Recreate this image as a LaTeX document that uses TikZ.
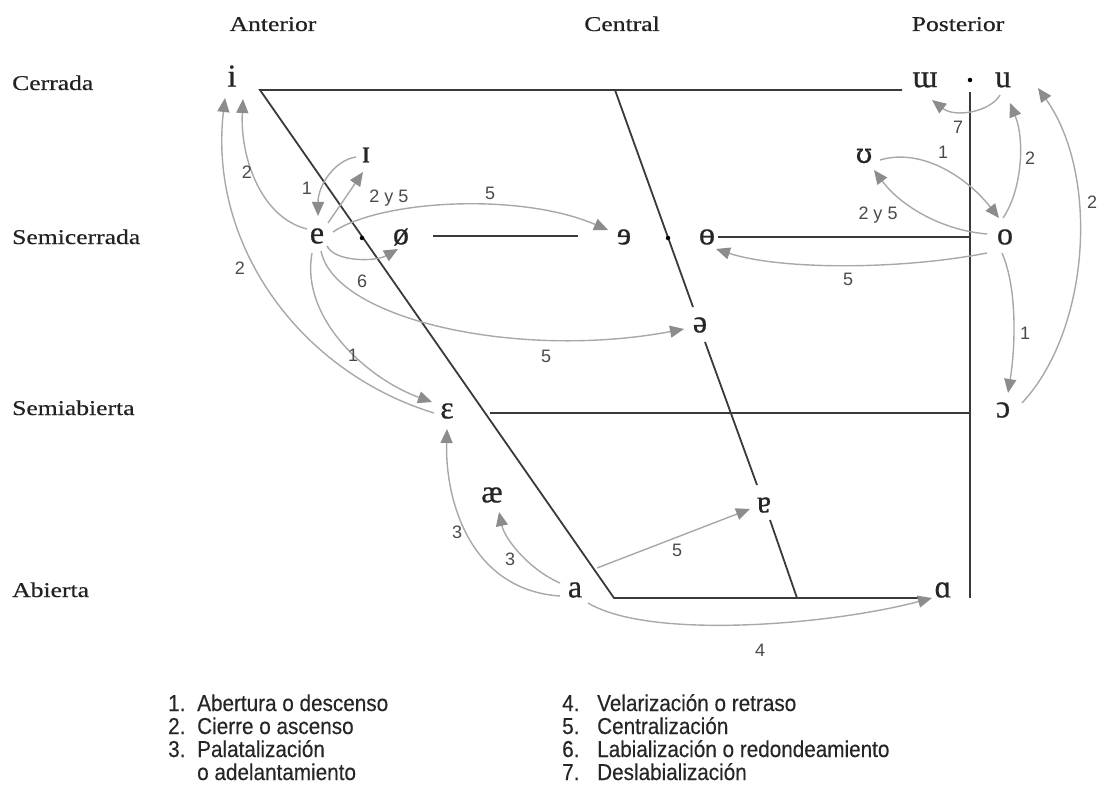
\documentclass[tikz,border=0pt]{standalone}
\usepackage{fontspec}
\usetikzlibrary{arrows.meta}
\newfontfamily\vowelfont[FakeBold=0.6]{Liberation Serif}
\newfontfamily\altvowelfont[FakeBold=0.4]{DejaVu Serif}
\newfontfamily\labfont[FakeStretch=1.22,FakeBold=0.5]{Liberation Serif}
\newfontfamily\numfont{Liberation Sans}
\newfontfamily\legfont[FakeStretch=0.9,FakeBold=0.3]{Liberation Sans}
\definecolor{chartline}{HTML}{3A3A3A}
\definecolor{arrline}{HTML}{A8A8A8}
\definecolor{arrhead}{HTML}{8C8C8C}
\definecolor{numcol}{HTML}{4A4A4A}
\definecolor{labcol}{HTML}{222222}
\begin{document}
\begin{tikzpicture}[x=1pt,y=-1pt,
  vowel/.style={font=\vowelfont\fontsize{32}{32}\selectfont, inner sep=1pt, text=black!85},
  axis/.style={font=\labfont\fontsize{21}{24}\selectfont, text=labcol, inner sep=0pt},
  chart/.style={draw=chartline, line width=1.8pt},
  shiftarrow/.style={draw=arrline, line width=1.4pt, -{Triangle[length=14pt,width=12pt,color=arrhead]}},
  num/.style={font=\numfont\fontsize{18}{18}\selectfont, text=numcol, inner sep=0pt},
  leg/.style={font=\legfont\fontsize{23}{23}\selectfont, text=black!85, inner sep=0pt, anchor=base west},
  cdot/.style={circle, fill=black, inner sep=0pt, minimum size=4.5pt}
]
\fill[white] (0,0) rectangle (1099,802);
\useasboundingbox (0,0) rectangle (1099,802);

% axis labels
\node[axis, anchor=base] (ant) at (273,31) {Anterior};
\node[axis, anchor=base] (cen) at (622,31) {Central};
\node[axis, anchor=base] (pos) at (958,31) {Posterior};
\node[axis, anchor=base west] (cer) at (12,90) {Cerrada};
\node[axis, anchor=base west] (scer) at (12,244) {Semicerrada};
\node[axis, anchor=base west] (sab) at (12,415) {Semiabierta};
\node[axis, anchor=base west] (abi) at (12,597) {Abierta};

% chart coordinates
\coordinate (TL) at (260,90);
\coordinate (TR) at (902,90);
\coordinate (CT) at (615,90);
\coordinate (BL) at (614,598);
\coordinate (BR) at (922,598);
\coordinate (CB) at (797,598);
\coordinate (RT) at (970,92);
\coordinate (RB) at (970,598);
\coordinate (G1) at (693,307);
\coordinate (G2) at (705,342);
\coordinate (G3) at (757,485);
\coordinate (G4) at (770,520);
\coordinate (SL1) at (433,236);
\coordinate (SL2) at (578,236);
\coordinate (SR1) at (718,237);
\coordinate (SR2) at (970,237);
\coordinate (SA1) at (490,413);
\coordinate (SA2) at (970,413);

\draw[chart] (TR) -- (TL) -- (BL) -- (BR);
\draw[chart] (CT) -- (G1);
\draw[chart] (G2) -- (G3);
\draw[chart] (G4) -- (CB);
\draw[chart] (RT) -- (RB);
\draw[chart] (SL1) -- (SL2);
\draw[chart] (SR1) -- (SR2);
\draw[chart] (SA1) -- (SA2);

\node[cdot] (d1) at (362,238) {};
\node[cdot] (d2) at (668,238) {};
\node[cdot] (d3) at (970,80) {};

% vowels
\node[vowel] (i) at (232,76) {i};
\node[vowel] (wu) at (925,80) {ɯ};
\node[vowel] (u) at (1003,80) {u};
\node[vowel] (I) at (366,155) {ɪ};
\node[vowel] (e) at (317,236) {e};
\node[vowel] (oe) at (401,237) {ø};
\node[vowel] (re) at (624,237) {ɘ};
\node[vowel] (bo) at (707,237) {ɵ};
\node[vowel, font=\altvowelfont\fontsize{27}{27}\selectfont] (U) at (864,156) {ʊ};
\node[vowel] (o) at (1005,237) {o};
\node[vowel] (schwa) at (700,325) {ə};
\node[vowel] (eps) at (447,411) {ɛ};
\node[vowel] (ae) at (492,495) {æ};
\node[vowel] (a) at (575,590) {a};
\node[vowel] (ta) at (764,505) {ɐ};
\node[vowel] (al) at (943,590) {ɑ};
\node[vowel] (oo) at (1003,410) {ɔ};

% arrows
\draw[shiftarrow] ([shift={(-10,-7)}]e.center) .. controls +(-45,-11) and +(-3,60) .. ([shift={(11,23)}]i.center);
\draw[shiftarrow] ([shift={(-13,2)}]eps.center) .. controls +(-134,-41) and +(-17,147) .. ([shift={(-7,22)}]i.center);
\draw[shiftarrow] ([shift={(-10,2)}]I.center) .. controls +(-21,3) and +(0,-31) .. ([shift={(1,-20)}]e.center);
\draw[shiftarrow] ([shift={(11,-13)}]e.center) -- ([shift={(-3,17)}]I.center);
\draw[shiftarrow] ([shift={(16,-4)}]e.center) .. controls +(47,-32) and +(-88,-38) .. ([shift={(-16,-7)}]re.center);
\draw[shiftarrow] ([shift={(10,10)}]e.center) .. controls +(8,16) and +(-23,13) .. ([shift={(-3,12)}]oe.center);
\draw[shiftarrow] ([shift={(4,15)}]e.center) .. controls +(14,69) and +(-164,31) .. ([shift={(-16,4)}]schwa.center);
\draw[shiftarrow] ([shift={(-5,17)}]e.center) .. controls +(-12,67) and +(-62,-22) .. ([shift={(-15,-9)}]eps.center);
\draw[shiftarrow] ([shift={(16,4)}]U.center) .. controls +(40,-12) and +(-34,-43) .. ([shift={(-6,-19)}]o.center);
\draw[shiftarrow] ([shift={(-18,-3)}]o.center) .. controls +(-47,-4) and +(26,35) .. ([shift={(10,14)}]U.center);
\draw[shiftarrow] ([shift={(-2,-19)}]o.center) .. controls +(19,-28) and +(15,37) .. ([shift={(7,23)}]u.center);
\draw[shiftarrow] ([shift={(-3,15)}]u.center) .. controls +(-10,17) and +(23,18) .. ([shift={(7,20)}]wu.center);
\draw[shiftarrow] ([shift={(19,-7)}]oo.center) .. controls +(68,-73) and +(62,87) .. ([shift={(35,8)}]u.center);
\draw[shiftarrow] ([shift={(-18,16)}]o.center) .. controls +(-87,17) and +(64,21) .. ([shift={(9,12)}]bo.center);
\draw[shiftarrow] ([shift={(-3,16)}]o.center) .. controls +(16,37) and +(7,-43) .. ([shift={(5,-17)}]oo.center);
\draw[shiftarrow] ([shift={(-15,6)}]a.center) .. controls +(-90,-6) and +(-2,71) .. ([shift={(0,18)}]eps.center);
\draw[shiftarrow] ([shift={(-15,-7)}]a.center) .. controls +(-30,-13) and +(6,28) .. ([shift={(7,17)}]ae.center);
\draw[shiftarrow] ([shift={(22,-22)}]a.center) -- ([shift={(-14,4)}]ta.center);
\draw[shiftarrow] ([shift={(13,13)}]a.center) .. controls +(62,37) and +(-102,27) .. ([shift={(-11,8)}]al.center);

% arrow labels
\node[num] (n1) at (247,172) {2};
\node[num] (n2) at (240,268) {2};
\node[num] (n3) at (307,188) {1};
\node[num] (n4) at (389,198) {2 y 5};
\node[num] (n5) at (490,193) {5};
\node[num] (n6) at (362,281) {6};
\node[num] (n7) at (546,356) {5};
\node[num] (n8) at (353,355) {1};
\node[num] (n9) at (943,152) {1};
\node[num] (n10) at (878,215) {2 y 5};
\node[num] (n11) at (1030,158) {2};
\node[num] (n12) at (958,127) {7};
\node[num] (n13) at (1092,202) {2};
\node[num] (n14) at (848,279) {5};
\node[num] (n15) at (1025,333) {1};
\node[num] (n16) at (457,532) {3};
\node[num] (n17) at (510,559) {3};
\node[num] (n18) at (677,550) {5};
\node[num] (n19) at (760,650) {4};

% legend
\node[leg] (l1n) at (168,711) {1.};
\node[leg] (l1t) at (197,711) {Abertura o descenso};
\node[leg] (l2n) at (168,734) {2.};
\node[leg] (l2t) at (197,734) {Cierre o ascenso};
\node[leg] (l3n) at (168,757) {3.};
\node[leg] (l3t) at (197,757) {Palatalización};
\node[leg] (l3u) at (197,780) {o adelantamiento};
\node[leg] (l4n) at (562,711) {4.};
\node[leg] (l4t) at (597,711) {Velarización o retraso};
\node[leg] (l5n) at (562,734) {5.};
\node[leg] (l5t) at (597,734) {Centralización};
\node[leg] (l6n) at (562,757) {6.};
\node[leg] (l6t) at (597,757) {Labialización o redondeamiento};
\node[leg] (l7n) at (562,780) {7.};
\node[leg] (l7t) at (597,780) {Deslabialización};
\end{tikzpicture}
\end{document}
